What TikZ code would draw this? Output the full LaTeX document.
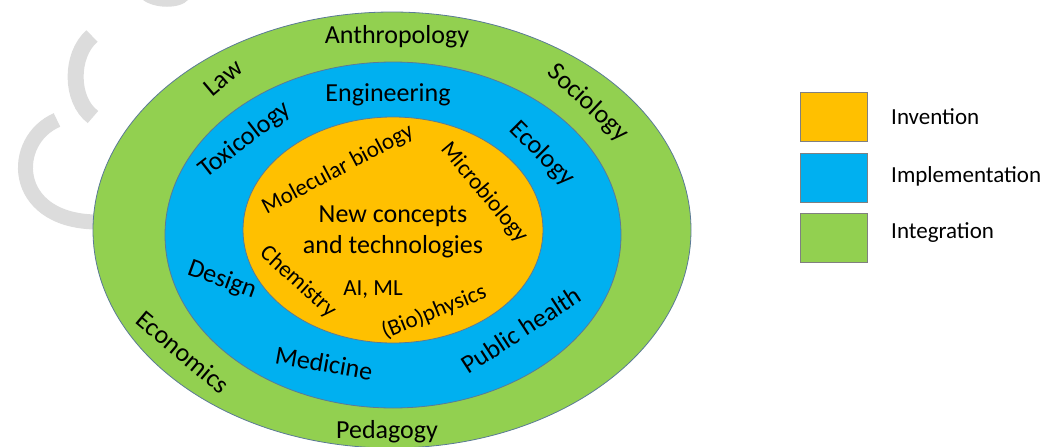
\documentclass[tikz,border=0pt]{standalone}
\usepackage{fontspec}
\setmainfont{Carlito}
\usepackage{tikz}
\usepackage{xcolor}
\usetikzlibrary{shapes.geometric}

\definecolor{ringgreen}{HTML}{92D050}
\definecolor{ringblue}{HTML}{00B0F0}
\definecolor{ringorange}{HTML}{FFC000}
\definecolor{edgeblue}{HTML}{5B7A96}
\definecolor{markgray}{HTML}{DCDCDC}

\begin{document}
\begin{tikzpicture}[x=1pt, y=-1pt,
  ring/.style={ellipse, draw=edgeblue, line width=0.8pt, inner sep=0pt},
  big/.style={font=\fontsize{26}{30}\selectfont, inner sep=0pt},
  small/.style={font=\fontsize{23}{27}\selectfont, inner sep=0pt},
  swatch/.style={draw=gray, line width=0.8pt, minimum width=67pt, minimum height=49pt, inner sep=0pt}]
\useasboundingbox (0,0) rectangle (1047,447);

% faded marks behind the rings
\draw[markgray, line width=15pt] (57,120) .. controls (10,140) and (10,220) .. (95,222);
\draw[markgray, line width=16pt] (92,36) .. controls (70,55) and (70,100) .. (93,117);
\fill[markgray] (143,0) -- (188,0) .. controls (180,9) and (155,9) .. (143,0);

% the three rings
\node[ring, fill=ringgreen, minimum width=598pt, minimum height=436pt] (integ) at (392,230) {};
\node[ring, fill=ringblue, minimum width=456pt, minimum height=346pt] (impl) at (393,235) {};
\node[ring, fill=ringorange, minimum width=300pt, minimum height=226pt] (inv) at (393,230) {};

% outer ring
\node[big] (anthro) at (397,37) {Anthropology};
\node[big, rotate=40] (law) at (223,78) {Law};
\node[big, rotate=-43] (socio) at (588,103) {Sociology};
\node[big, rotate=-40] (econ) at (183,352) {Economics};
\node[big] (peda) at (387,432) {Pedagogy};

% middle ring
\node[big] (engin) at (388,95) {Engineering};
\node[big, rotate=38] (toxi) at (245,140) {Toxicology};
\node[big, rotate=-45] (eco) at (542,154) {Ecology};
\node[big, rotate=-20] (design) at (222,280) {Design};
\node[big, rotate=-10] (medi) at (324,363) {Medicine};
\node[big, rotate=33] (pubh) at (521,330) {Public health};

% inner ring
\node[small, rotate=28] (molbio) at (338,170) {Molecular biology};
\node[small, rotate=-50] (micro) at (484,193) {Microbiology};
\node[big] (newc) at (393,216) {New concepts};
\node[big] (tech) at (393,247) {and technologies};
\node[small, rotate=-42] (chem) at (298,282) {Chemistry};
\node[small] (aiml) at (373,290) {AI, ML};
\node[small, rotate=22] (biophys) at (434,312) {(Bio)physics};

% legend
\node[swatch, fill=ringorange] (invbox) at (834,117) {};
\node[swatch, fill=ringblue] (implbox) at (834,178) {};
\node[swatch, fill=ringgreen] (integbox) at (834,238) {};
\node[small, anchor=west] (invtxt) at (891,117) {Invention};
\node[small, anchor=west] (impltxt) at (891,176) {Implementation};
\node[small, anchor=west] (integtxt) at (891,233) {Integration};
\end{tikzpicture}
\end{document}
